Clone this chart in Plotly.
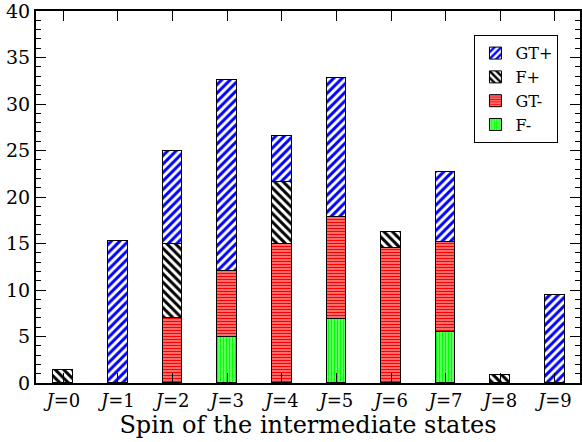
import plotly.graph_objects as go

J = list(range(10))
tick_labels = [f"<i>J</i>={j}" for j in J]
F_minus = [0, 0, 0, 5.0, 0, 6.85, 0, 5.5, 0, 0]
GT_minus = [0, 0, 7.0, 7.0, 15.0, 11.0, 14.5, 9.7, 0, 0]
F_plus = [1.45, 0, 8.0, 0, 6.6, 0, 1.7, 0, 0.83, 0]
GT_plus = [0, 15.3, 10.0, 20.6, 5.0, 14.9, 0, 7.45, 0, 9.5]

FONT = "DejaVu Serif"

series = [
    ("F-", F_minus, "|", "#00ff00", 0.75, 3),
    ("GT-", GT_minus, "-", "#ff0000", 0.72, 3),
    ("F+", F_plus, "\\", "#000000", 0.5, 6),
    ("GT+", GT_plus, "/", "#0000ff", 0.5, 6),
]

fig = go.Figure()
for name, vals, shape, col, sol, sz in series:
    fig.add_trace(go.Bar(
        x=J, y=[v if v else None for v in vals], name=name, width=0.36,
        marker=dict(color="white", line=dict(color="black", width=1),
                    pattern=dict(shape=shape, fgcolor=col, bgcolor="white",
                                 solidity=sol, size=sz, fillmode="replace")),
    ))

fig.update_layout(
    barmode="stack",
    width=582, height=442,
    margin=dict(l=36, r=0, t=10, b=59),
    plot_bgcolor="white", paper_bgcolor="white",
    font=dict(family=FONT, size=18, color="black"),
    showlegend=True,
    legend=dict(x=0.806, y=0.935, xanchor="left", yanchor="top",
                bordercolor="black", borderwidth=1, bgcolor="white",
                traceorder="reversed", font=dict(size=16, family=FONT),
                itemwidth=30, tracegroupgap=0),
    bargap=0,
)
fig.update_xaxes(
    range=[-0.5, 9.46], tickvals=J, ticktext=tick_labels,
    ticks="inside", ticklen=10, tickwidth=1, tickcolor="black",
    showline=True, linecolor="black", linewidth=2, mirror="ticks",
    showgrid=False, zeroline=False,
    tickfont=dict(size=18, family=FONT),
    title=dict(text="Spin of the intermediate states", font=dict(size=24, family=FONT), standoff=4),
)
fig.update_yaxes(
    range=[0, 40], tickvals=[0, 5, 10, 15, 20, 25, 30, 35, 40],
    ticks="inside", ticklen=10, tickwidth=1, tickcolor="black",
    minor=dict(dtick=1, ticklen=5, ticks="inside", tickcolor="black", tickwidth=1, showgrid=False),
    showline=True, linecolor="black", linewidth=2, mirror="ticks",
    showgrid=False, zeroline=False, ticklabeloverflow="allow",
    tickfont=dict(size=19, family=FONT),
)

fig.write_html("out.html")
